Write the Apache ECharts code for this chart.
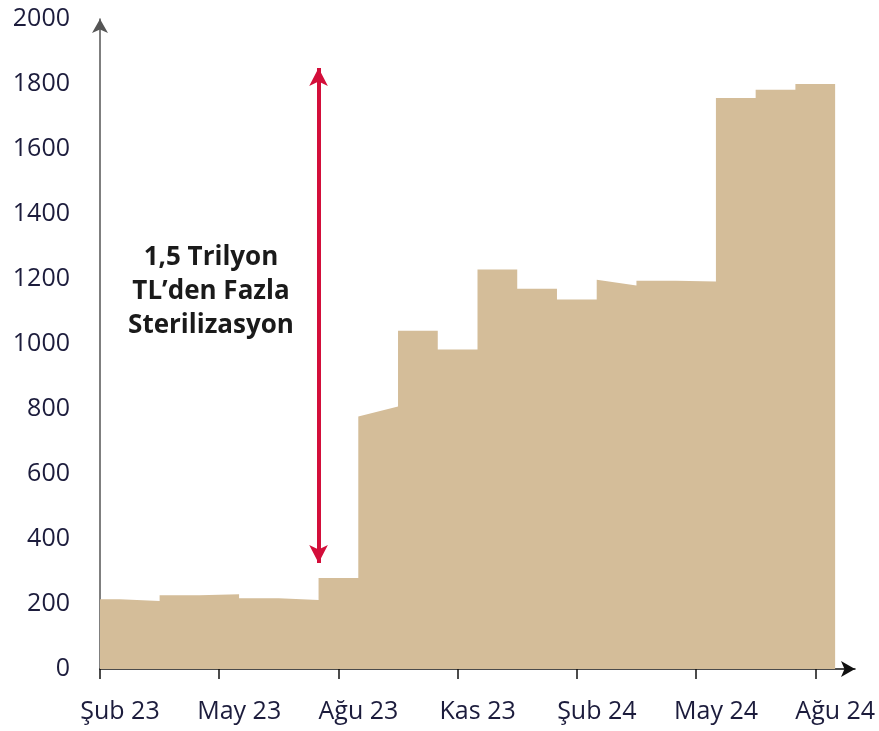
<!DOCTYPE html>
<html>
<head>
<meta charset="utf-8">
<script src="https://cdn.jsdelivr.net/npm/echarts@6/dist/echarts.min.js"></script>
<style>
  html, body { margin: 0; padding: 0; background: #fff; }
  #chart { width: 879px; height: 731px; }
</style>
</head>
<body>
<div id="chart"></div>
<script>
// monthly levels, Şub 23 .. Ağu 24 (value at start and end of each month's step)
const months = ['Şub 23', 'Mar 23', 'Nis 23', 'May 23', 'Haz 23', 'Tem 23', 'Ağu 23', 'Eyl 23', 'Eki 23', 'Kas 23',
  'Ara 23', 'Oca 24', 'Şub 24', 'Mar 24', 'Nis 24', 'May 24', 'Haz 24', 'Tem 24', 'Ağu 24']
const startValues = [215, 209, 227, 230, 218, 212, 280, 777, 1041, 983, 1229, 1170, 1137, 1198, 1195, 1192, 1757, 1782, 1800]
const endValues = [215, 209, 227, 230, 218, 212, 280, 808, 1041, 983, 1229, 1170, 1137, 1180, 1195, 1192, 1757, 1782, 1800]
const tickLabels = ['Şub 23', 'May 23', 'Ağu 23', 'Kas 23', 'Şub 24', 'May 24', 'Ağu 24']
const arrowRange = [326, 1849]
const arrowAt = 5.5
const noteText = '1,5 Trilyon\nTL’den Fazla\nSterilizasyon'

const points = []
months.forEach((m, i) => {
  points.push([Math.max(i - 0.5, 0), startValues[i]])
  points.push([i + 0.5, endValues[i]])
})

const chart = echarts.init(document.getElementById('chart'))
const labelColor = '#1c1c3c'
const font = '"Open Sans", "Noto Sans", sans-serif'

chart.setOption({
  animation: false,
  grid: { left: 100, right: 24, top: 19, bottom: 62 },
  xAxis: {
    type: 'value',
    min: 0,
    max: 19,
    interval: 3,
    axisLine: {
      show: true,
      symbol: ['none', 'arrow'],
      symbolSize: [12, 14],
      lineStyle: { color: '#111', width: 1.5 }
    },
    axisTick: { show: true, length: 10, lineStyle: { color: '#111', width: 1.5 } },
    axisLabel: {
      color: labelColor,
      fontFamily: font,
      fontSize: 25,
      margin: 30,
      padding: [0, 0, 0, 40],
      showMaxLabel: false,
      formatter: v => tickLabels[Math.round(v / 3)] || ''
    },
    splitLine: { show: false }
  },
  yAxis: {
    type: 'value',
    min: 0,
    max: 2000,
    interval: 200,
    axisLine: {
      show: true,
      symbol: ['none', 'arrow'],
      symbolSize: [12, 14],
      lineStyle: { color: '#555', width: 1.5 }
    },
    axisTick: { show: false },
    axisLabel: {
      color: labelColor,
      fontFamily: font,
      fontSize: 25,
      margin: 30,
      formatter: v => String(v)
    },
    splitLine: { show: false }
  },
  series: [{
    type: 'line',
    data: points,
    symbol: 'none',
    lineStyle: { width: 0 },
    areaStyle: { color: '#d4bd99', opacity: 1 },
    markLine: {
      silent: true,
      symbol: ['arrow', 'arrow'],
      symbolSize: [14, 18],
      label: { show: false },
      lineStyle: { color: '#d30e3a', width: 4, type: 'solid' },
      data: [[{ coord: [arrowAt, arrowRange[0]] }, { coord: [arrowAt, arrowRange[1]] }]]
    }
  }],
  graphic: [{
    type: 'text',
    x: 211,
    y: 241,
    style: {
      text: noteText,
      textAlign: 'center',
      font: 'bold 26px ' + font,
      lineHeight: 34,
      fill: '#1a1a1a'
    }
  }]
})
</script>
</body>
</html>
